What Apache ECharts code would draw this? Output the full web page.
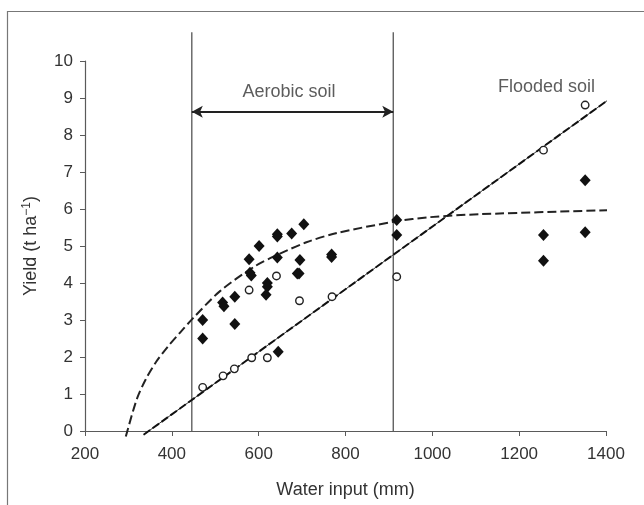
<!DOCTYPE html>
<html>
<head>
<meta charset="utf-8">
<script src="https://cdn.jsdelivr.net/npm/echarts@6/dist/echarts.min.js"></script>
<style>
html,body{margin:0;padding:0;background:#fff;}
#chart{width:644px;height:505px;}
</style>
</head>
<body>
<div id="chart"></div>
<script>
// ---- data ----
const xTicks = [200, 400, 600, 800, 1000, 1200, 1400];
const yTicks = [0, 1, 2, 3, 4, 5, 6, 7, 8, 9, 10];

// filled diamonds
const filledPoints = [
  [471, 3.0], [471, 2.5], [517, 3.47], [520, 3.37], [545, 3.63], [545, 2.89],
  [578, 4.64], [580, 4.28], [583, 4.2], [601, 5.0], [620, 4.0], [620, 3.9],
  [617, 3.68], [643, 5.32], [643, 5.26], [643, 4.69], [645, 2.14], [676, 5.34],
  [695, 4.62], [689, 4.26], [693, 4.26], [704, 5.59], [768, 4.77], [768, 4.70],
  [918, 5.70], [918, 5.30], [1256, 5.30], [1256, 4.60], [1352, 6.78], [1352, 5.37]
];
// open diamonds
const openPoints = [
  [471, 1.18], [518, 1.49], [544, 1.68], [584, 1.98], [578, 3.81], [620, 1.98],
  [641, 4.19], [694, 3.52], [769, 3.63], [918, 4.17], [1256, 7.59], [1352, 8.81]
];
// dashed fitted curve (aerobic)
const dashedCurve = [
  [294, -0.15], [319, 0.85], [340, 1.4], [364, 1.87], [390, 2.27], [419, 2.66],
  [449, 3.05], [511, 3.78], [591, 4.45], [641, 4.75], [710, 5.1], [780, 5.35],
  [914, 5.66], [995, 5.78], [1110, 5.86], [1417, 5.97]
];
// straight fitted line (flooded)
const solidLine = [[335, -0.1], [1417, 9.05]];
// boundaries of aerobic range
const dividerX = [446, 910];
const dividerTop = 10.78;
const arrowY = 8.63;
const annotations = [
  { name: 'Aerobic soil', x: 670, y: 9.17 },
  { name: 'Flooded soil', x: 1263, y: 9.3 }
];

const chart = echarts.init(document.getElementById('chart'), null, { renderer: 'canvas' });
const FONT = '"Liberation Sans", Arial, sans-serif';
const TXT = '#333';
const AX = '#5a5a5a';

const option = {
  animation: false,
  backgroundColor: '#fff',
  grid: { left: 85, right: 38, top: 61, bottom: 74, containLabel: false },
  graphic: [{
    type: 'polyline',
    shape: { points: [[7.5, 505], [7.5, 11.5], [644, 11.5]] },
    style: { stroke: '#777', lineWidth: 1.2, fill: null }
  }],
  xAxis: {
    type: 'value', min: 200, max: 1400, interval: 200,
    name: 'Water input (mm)', nameLocation: 'middle', nameGap: 50,
    nameTextStyle: { fontFamily: FONT, fontSize: 18, color: TXT },
    axisLine: { show: true, lineStyle: { color: AX, width: 1.2 } },
    axisTick: { show: true, length: 5, lineStyle: { color: AX } },
    axisLabel: { fontFamily: FONT, fontSize: 17, color: TXT, margin: 15,
      formatter: v => String(v) },
    splitLine: { show: false }
  },
  yAxis: {
    type: 'value', min: 0, max: 10, interval: 1,
    name: 'Yield (t ha{sup|−1})', nameLocation: 'middle', nameGap: 44, nameRotate: 90,
    nameTextStyle: { fontFamily: FONT, fontSize: 18, color: TXT,
      rich: { sup: { fontFamily: FONT, fontSize: 12, color: TXT, verticalAlign: 'top', padding: [0,0,8,0] } } },
    axisLine: { show: true, lineStyle: { color: AX, width: 1.2 } },
    axisTick: { show: true, length: 5, lineStyle: { color: AX } },
    axisLabel: { fontFamily: FONT, fontSize: 17, color: TXT, margin: 12 },
    splitLine: { show: false }
  },
  series: [
    {
      type: 'custom', z: 1, clip: false,
      data: dividerX.map(x => [x, dividerTop]),
      renderItem: function (params, api) {
        const p0 = api.coord([api.value(0), 0]);
        const p1 = api.coord([api.value(0), api.value(1)]);
        return { type: 'line', shape: { x1: p0[0], y1: p0[1], x2: p1[0], y2: p1[1] },
          style: { stroke: '#555', lineWidth: 1.3 } };
      }
    },
    {
      type: 'line', z: 2, clip: false, silent: true,
      data: [],
      markLine: {
        silent: true, symbol: ['arrow', 'arrow'], symbolSize: [9, 11],
        label: { show: false },
        lineStyle: { color: '#222', width: 2, type: 'solid' },
        data: [[{ coord: [dividerX[0], arrowY] }, { coord: [dividerX[1], arrowY] }]]
      }
    },
    {
      type: 'line', z: 3, clip: false, data: dashedCurve, smooth: 0.3,
      showSymbol: false, symbol: 'none',
      lineStyle: { color: '#222', width: 2, type: [9, 4] }
    },
    {
      type: 'line', z: 3, clip: false, data: solidLine,
      showSymbol: false, symbol: 'none',
      lineStyle: { color: '#333', width: 1 }
    },
    {
      type: 'line', z: 3, clip: false, data: solidLine,
      showSymbol: false, symbol: 'none',
      lineStyle: { color: '#111', width: 2, type: [8, 3] }
    },
    {
      type: 'scatter', z: 5, data: filledPoints, symbol: 'diamond', symbolSize: [11, 12],
      itemStyle: { color: '#111', opacity: 1 }
    },
    {
      type: 'scatter', z: 6, data: openPoints, symbol: 'circle', symbolSize: 7.5,
      itemStyle: { color: '#fff', borderColor: '#222', borderWidth: 1.4, opacity: 1 }
    },
    {
      type: 'scatter', z: 7, symbolSize: 0, silent: true,
      data: annotations.map(a => ({ name: a.name, value: [a.x, a.y] })),
      label: { show: true, position: 'inside', formatter: p => p.name,
        fontFamily: FONT, fontSize: 18, color: TXT }
    }
  ]
};
chart.setOption(option);
</script>
</body>
</html>
